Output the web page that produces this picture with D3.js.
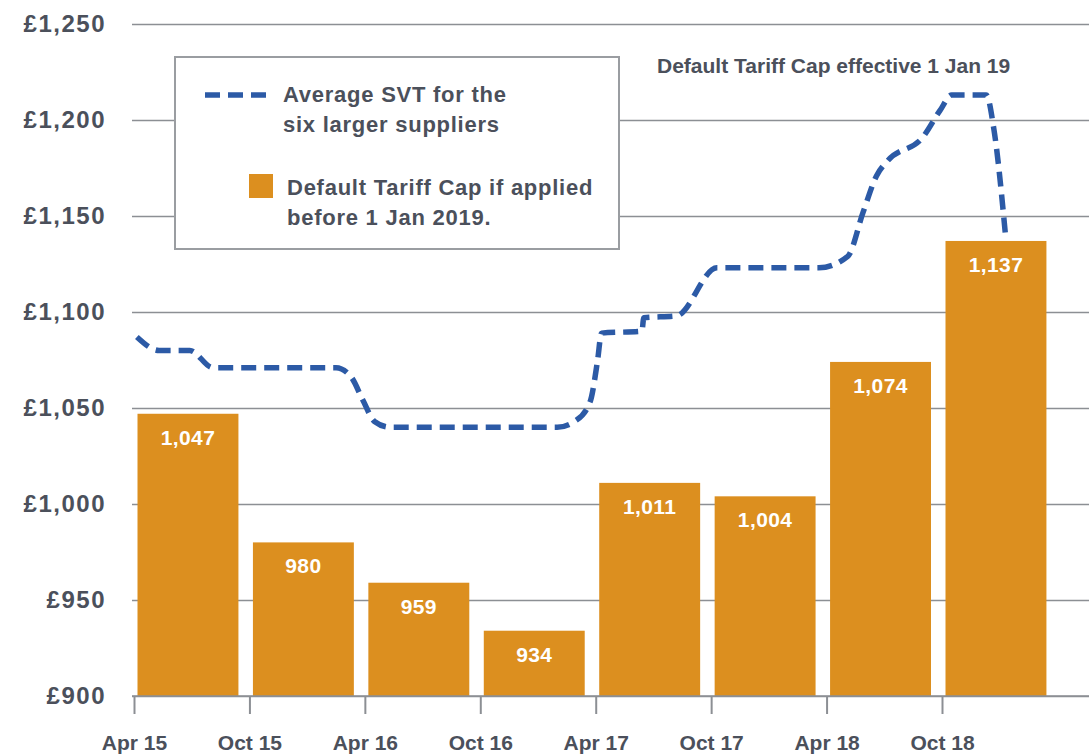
<!DOCTYPE html>
<html>
<head>
<meta charset="utf-8">
<script src="https://cdn.jsdelivr.net/npm/d3@7"></script>
<style>
  body { margin: 0; background: #fff; }
  svg { display: block; font-family: "Liberation Sans", Arial, sans-serif; font-weight: bold; }
  .y-axis .domain, .x-axis .domain { display: none; }
</style>
</head>
<body>
<div id="chart"></div>
<script>
const width = 1089;
const height = 754;

// tick labels along the bottom (one every six months)
const tickLabels = ["Apr 15", "Oct 15", "Apr 16", "Oct 16", "Apr 17", "Oct 17", "Apr 18", "Oct 18"];
const tickMonths = [0, 6, 12, 18, 24, 30, 36, 42];

// default tariff cap bars
const capValues = [1047, 980, 959, 934, 1011, 1004, 1074, 1137];

// average SVT line, months since Apr 15
const svtMonths = [0.15, 1.3, 2.9, 4.1, 10.5, 11.3, 11.9, 12.5, 13.3, 22.0, 22.9, 23.7, 24.1, 24.3, 26.4, 26.5, 28.2, 30.3, 35.6, 37.1, 37.9, 38.6, 39.2, 41.0, 41.9, 42.5, 44.3, 44.7, 45.3];
const svtValues = [1087, 1080, 1080, 1071, 1071, 1066, 1054, 1043, 1040, 1040, 1043, 1053, 1075, 1089, 1090, 1097, 1098, 1123, 1123, 1129, 1152, 1171, 1179, 1191, 1205, 1213, 1213, 1195, 1140];

const yTicks = [900, 950, 1000, 1050, 1100, 1150, 1200, 1250];

const textColor = "#4b505b";
const barColor = "#dc8f1f";
const lineColor = "#2c5aa6";

const svg = d3.select("#chart")
  .append("svg")
  .attr("width", width)
  .attr("height", height);

const x = d3.scaleLinear().domain([0, 42]).range([134, 942]);
const y = d3.scaleLinear().domain([900, 1250]).range([696, 24]);

// y gridlines + labels
const yAxis = d3.axisLeft(y)
  .tickValues(yTicks)
  .tickSize(-(width - 132))
  .tickPadding(26)
  .tickFormat(d => "£" + d3.format(",")(d));

const yg = svg.append("g")
  .attr("class", "y-axis")
  .attr("transform", "translate(132,0)")
  .call(yAxis);
yg.selectAll(".tick line")
  .attr("stroke", "#8c8f94")
  .attr("stroke-width", 1.6);
yg.selectAll(".tick text")
  .attr("fill", textColor)
  .style("font-size", "24px")
  .style("letter-spacing", "1.5px")
  .style("font-family", "'Liberation Sans', Arial, sans-serif")
  .style("font-weight", "bold");

// bars
const step = x(6) - x(0);
const barW = step - 14.5;
svg.selectAll(".bar")
  .data(capValues)
  .enter()
  .append("rect")
  .attr("class", "bar")
  .attr("x", (d, i) => x(tickMonths[i]) + 3.5)
  .attr("y", d => y(d))
  .attr("width", barW)
  .attr("height", d => y(900) - y(d))
  .attr("fill", barColor);

svg.selectAll(".bar-label")
  .data(capValues)
  .enter()
  .append("text")
  .attr("class", "bar-label")
  .attr("x", (d, i) => x(tickMonths[i]) + 3.5 + barW / 2)
  .attr("y", d => y(d) + 31)
  .attr("text-anchor", "middle")
  .attr("fill", "#fff")
  .style("font-size", "21px")
  .style("letter-spacing", "0.4px")
  .text(d => d3.format(",")(d));

// x axis ticks
const xAxis = d3.axisBottom(x)
  .tickValues(tickMonths)
  .tickSize(18)
  .tickPadding(21)
  .tickFormat((d, i) => tickLabels[i]);

const xg = svg.append("g")
  .attr("class", "x-axis")
  .attr("transform", "translate(0,696)")
  .call(xAxis);
xg.selectAll(".tick line")
  .attr("stroke", "#8c8f94")
  .attr("stroke-width", 2);
xg.selectAll(".tick text")
  .attr("fill", textColor)
  .style("font-size", "21px")
  .style("font-family", "'Liberation Sans', Arial, sans-serif")
  .style("font-weight", "bold");

// baseline redrawn on top of bars
svg.append("line")
  .attr("x1", 132).attr("x2", width)
  .attr("y1", y(900)).attr("y2", y(900))
  .attr("stroke", "#8c8f94")
  .attr("stroke-width", 1.6);

// SVT line
const line = d3.line()
  .x((d, i) => x(svtMonths[i]))
  .y(d => y(d))
  .curve(d3.curveMonotoneX);

svg.append("path")
  .datum(svtValues)
  .attr("d", line)
  .attr("fill", "none")
  .attr("stroke", lineColor)
  .attr("stroke-width", 5.5)
  .attr("stroke-dasharray", "15,8");

// annotation
svg.append("text")
  .attr("x", 657)
  .attr("y", 73)
  .attr("fill", textColor)
  .style("font-size", "21px")
  .text("Default Tariff Cap effective 1 Jan 19");

// legend
const legend = svg.append("g").attr("class", "legend");
legend.append("rect")
  .attr("x", 175).attr("y", 57)
  .attr("width", 444).attr("height", 192)
  .attr("fill", "#fff")
  .attr("stroke", "#9a9da1")
  .attr("stroke-width", 2);

legend.append("line")
  .attr("x1", 205).attr("x2", 266)
  .attr("y1", 95).attr("y2", 95)
  .attr("stroke", lineColor)
  .attr("stroke-width", 5.5)
  .attr("stroke-dasharray", "15,8");

const legendText = [
  { x: 283, y: 102, t: "Average SVT for the" },
  { x: 283, y: 132, t: "six larger suppliers" },
  { x: 287, y: 195, t: "Default Tariff Cap if applied" },
  { x: 287, y: 225, t: "before 1 Jan 2019." }
];
legend.selectAll(".legend-text")
  .data(legendText)
  .enter()
  .append("text")
  .attr("class", "legend-text")
  .attr("x", d => d.x)
  .attr("y", d => d.y)
  .attr("fill", textColor)
  .style("font-size", "22px")
  .style("letter-spacing", "0.75px")
  .text(d => d.t);

legend.append("rect")
  .attr("x", 249).attr("y", 174)
  .attr("width", 24).attr("height", 24)
  .attr("fill", barColor);
</script>
</body>
</html>
